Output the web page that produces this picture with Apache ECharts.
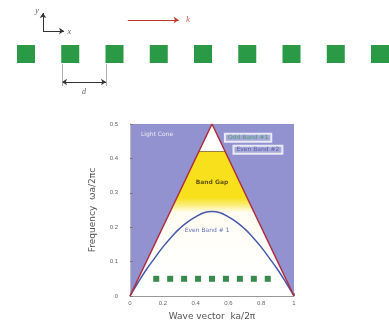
<!DOCTYPE html>
<html>
<head>
<meta charset="utf-8">
<script src="https://cdn.jsdelivr.net/npm/echarts@6/dist/echarts.min.js"></script>
<style>
  html, body { margin: 0; padding: 0; background: #fff; }
  #chart { width: 389px; height: 326px; }
</style>
</head>
<body>
<div id="chart"></div>
<script>
// --- band diagram data (k in units of 2π/a, ω in units of 2πc/a) ---
const bandK = [0, 0.05, 0.1, 0.15, 0.2, 0.25, 0.3, 0.35, 0.4, 0.45, 0.5,
               0.55, 0.6, 0.65, 0.7, 0.75, 0.8, 0.85, 0.9, 0.95, 1];
const band1W = [0, 0.04, 0.077, 0.11, 0.142, 0.17, 0.195, 0.215, 0.23, 0.242, 0.246,
                0.242, 0.23, 0.215, 0.195, 0.17, 0.142, 0.11, 0.077, 0.04, 0];
const lightK = [0, 0.5, 1];
const lightW = [0, 0.5, 0];
const gapK = [0, 0.42, 0.58, 1];
const gapW = [0, 0.42, 0.42, 0];
const band2K = [0.42, 0.58];
const band2W = [0.42, 0.42];
const holeK = [0.16, 0.245, 0.33, 0.415, 0.5, 0.585, 0.67, 0.755, 0.84];
const holeW = [0.05, 0.05, 0.05, 0.05, 0.05, 0.05, 0.05, 0.05, 0.05];
const xTicks = ["0", "0.2", "0.4", "0.6", "0.8", "1"];
const yTicks = ["0", "0.1", "0.2", "0.3", "0.4", "0.5"];

// --- schematic of the waveguide (x in lattice periods d) ---
const latticeIdx = [0, 1, 2, 3, 4, 5, 6, 7, 8];
const latticeY = 54;

const zip = (a, b) => a.map((v, i) => [v, b[i]]);

const PURPLE = "#9292d0";
const YELLOW = "#f8e11c";
const GREEN = "#2a9a46";

const chart = echarts.init(document.getElementById("chart"), null, { renderer: "canvas" });

const ticks = (list, step) => (v) => list[Math.round(v / step)] ?? "";

const textLabels = [
  { value: [0.165, 0.47], text: "Light Cone", color: "#ffffff" },
  { value: [0.72, 0.46], text: "Odd Band #1", color: "#3a9a5a", box: true },
  { value: [0.78, 0.425], text: "Even Band #2", color: "#4a4f9a", box: true },
  { value: [0.5, 0.33], text: "Band Gap", color: "#3a3000", bold: true },
  { value: [0.47, 0.192], text: "Even Band # 1", color: "#3a4aa8" }
];

const schemeLabels = [
  { value: [0.25, 11], text: "y", color: "#333", size: 8 },
  { value: [0.98, 32], text: "x", color: "#333", size: 8 },
  { value: [3.66, 20], text: "k", color: "#c0392b", size: 9 },
  { value: [1.31, 92], text: "d", color: "#333", size: 8 }
];

chart.setOption({
  animation: false,
  backgroundColor: "#ffffff",
  grid: [
    { left: 130, right: 95, top: 124, bottom: 29, backgroundColor: PURPLE, show: true, borderWidth: 0 },
    { left: 0, top: 0, width: 389, height: 110 }
  ],
  xAxis: [
    {
      type: "value", gridIndex: 0, min: 0, max: 1, interval: 0.2,
      name: "Wave vector  ka/2π", nameLocation: "middle", nameGap: 16,
      nameTextStyle: { color: "#555", fontSize: 9, fontFamily: "DejaVu Sans" },
      axisLine: { show: true, lineStyle: { color: "#999", width: 1 } },
      axisTick: { show: true, inside: true, length: 3, lineStyle: { color: "#888" } },
      axisLabel: { color: "#666", fontSize: 6, margin: 4, formatter: ticks(xTicks, 0.2) },
      splitLine: { show: false }
    },
    { type: "value", gridIndex: 1, min: -0.5876, max: 8.203, show: false }
  ],
  yAxis: [
    {
      type: "value", gridIndex: 0, min: 0, max: 0.5, interval: 0.1,
      name: "Frequency  ωa/2πc", nameLocation: "middle", nameGap: 33,
      nameTextStyle: { color: "#555", fontSize: 9, fontFamily: "DejaVu Sans" },
      axisLine: { show: true, lineStyle: { color: "#bbb", width: 1 } },
      axisTick: { show: true, inside: true, length: 3, lineStyle: { color: "#777" } },
      axisLabel: { color: "#666", fontSize: 6, margin: 12, formatter: ticks(yTicks, 0.1) },
      splitLine: { show: false }
    },
    { type: "value", gridIndex: 1, min: 0, max: 110, inverse: true, show: false }
  ],
  series: [
    // inside of the light cone (white)
    {
      type: "line", xAxisIndex: 0, yAxisIndex: 0, data: zip(lightK, lightW),
      symbol: "none", lineStyle: { width: 0 }, areaStyle: { color: "#ffffff", opacity: 1 }, z: 1
    },
    // band gap (yellow, fading to white under the gap)
    {
      type: "line", xAxisIndex: 0, yAxisIndex: 0, data: zip(gapK, gapW),
      symbol: "none", lineStyle: { width: 0 },
      areaStyle: {
        opacity: 1,
        color: new echarts.graphic.LinearGradient(0, 0, 0, 1, [
          { offset: 0, color: YELLOW },
          { offset: 0.32, color: YELLOW },
          { offset: 0.37, color: "#fbee7a" },
          { offset: 0.42, color: "#fffdf0" },
          { offset: 1, color: "rgba(255,255,255,0)" }
        ])
      },
      z: 2
    },
    // bottom of band #2
    {
      type: "line", xAxisIndex: 0, yAxisIndex: 0, data: zip(band2K, band2W),
      symbol: "none", lineStyle: { color: "#9a7a40", width: 1 }, z: 3
    },
    // even band #1
    {
      type: "line", xAxisIndex: 0, yAxisIndex: 0, data: zip(bandK, band1W),
      symbol: "none", smooth: true, lineStyle: { color: "#4658b0", width: 1.5 }, z: 4
    },
    // light lines
    {
      type: "line", xAxisIndex: 0, yAxisIndex: 0, data: zip(lightK, lightW),
      symbol: "none", lineStyle: { color: "#b02c3c", width: 1.5 }, z: 5
    },
    // holes of the waveguide
    {
      type: "scatter", xAxisIndex: 0, yAxisIndex: 0, data: zip(holeK, holeW),
      symbol: "rect", symbolSize: 6, itemStyle: { color: "#3a8a50", opacity: 1 }, z: 6
    },
    // annotations inside the plot
    {
      type: "scatter", xAxisIndex: 0, yAxisIndex: 0, symbolSize: 1,
      itemStyle: { color: "transparent" }, z: 7,
      data: textLabels.map((t) => ({
        value: t.value,
        label: {
          show: true, position: "inside", formatter: t.text, color: t.color,
          fontSize: 6, fontWeight: t.bold ? "bold" : "normal", fontFamily: "DejaVu Sans",
          backgroundColor: t.box ? "rgba(255,255,255,0.25)" : "transparent",
          borderColor: t.box ? "#ffffff" : "transparent", borderWidth: t.box ? 1 : 0,
          padding: t.box ? [1, 3] : 0
        }
      }))
    },
    // schematic: row of holes
    {
      type: "scatter", xAxisIndex: 1, yAxisIndex: 1,
      data: latticeIdx.map((i) => [i, latticeY]),
      symbol: "rect", symbolSize: 18, itemStyle: { color: GREEN, opacity: 1 }, z: 2
    },
    // schematic: arrows and labels
    {
      type: "scatter", xAxisIndex: 1, yAxisIndex: 1, symbolSize: 1,
      itemStyle: { color: "transparent" }, z: 3,
      data: schemeLabels.map((t) => ({
        value: t.value,
        label: {
          show: true, position: "inside", formatter: t.text, color: t.color,
          fontSize: t.size, fontStyle: "italic", fontFamily: "Liberation Serif"
        }
      })),
      markLine: {
        silent: true, symbolSize: 5,
        label: { show: false },
        lineStyle: { type: "solid" },
        data: [
          [{ coord: [0.384, 31], symbol: "none", lineStyle: { color: "#333", width: 1 } }, { coord: [0.384, 13], symbol: "arrow" }],
          [{ coord: [0.384, 31], symbol: "none", lineStyle: { color: "#333", width: 1 } }, { coord: [0.86, 31], symbol: "arrow" }],
          [{ coord: [2.3, 20], symbol: "none", lineStyle: { color: "#c0392b", width: 1 } }, { coord: [3.45, 20], symbol: "arrow" }],
          [{ coord: [0.814, 82], symbol: "arrow", lineStyle: { color: "#333", width: 1 } }, { coord: [1.808, 82], symbol: "arrow" }],
          [{ coord: [0.814, 64], symbol: "none", lineStyle: { color: "#999", width: 0.8 } }, { coord: [0.814, 86], symbol: "none" }],
          [{ coord: [1.808, 64], symbol: "none", lineStyle: { color: "#999", width: 0.8 } }, { coord: [1.808, 86], symbol: "none" }]
        ]
      }
    }
  ]
});
</script>
</body>
</html>
